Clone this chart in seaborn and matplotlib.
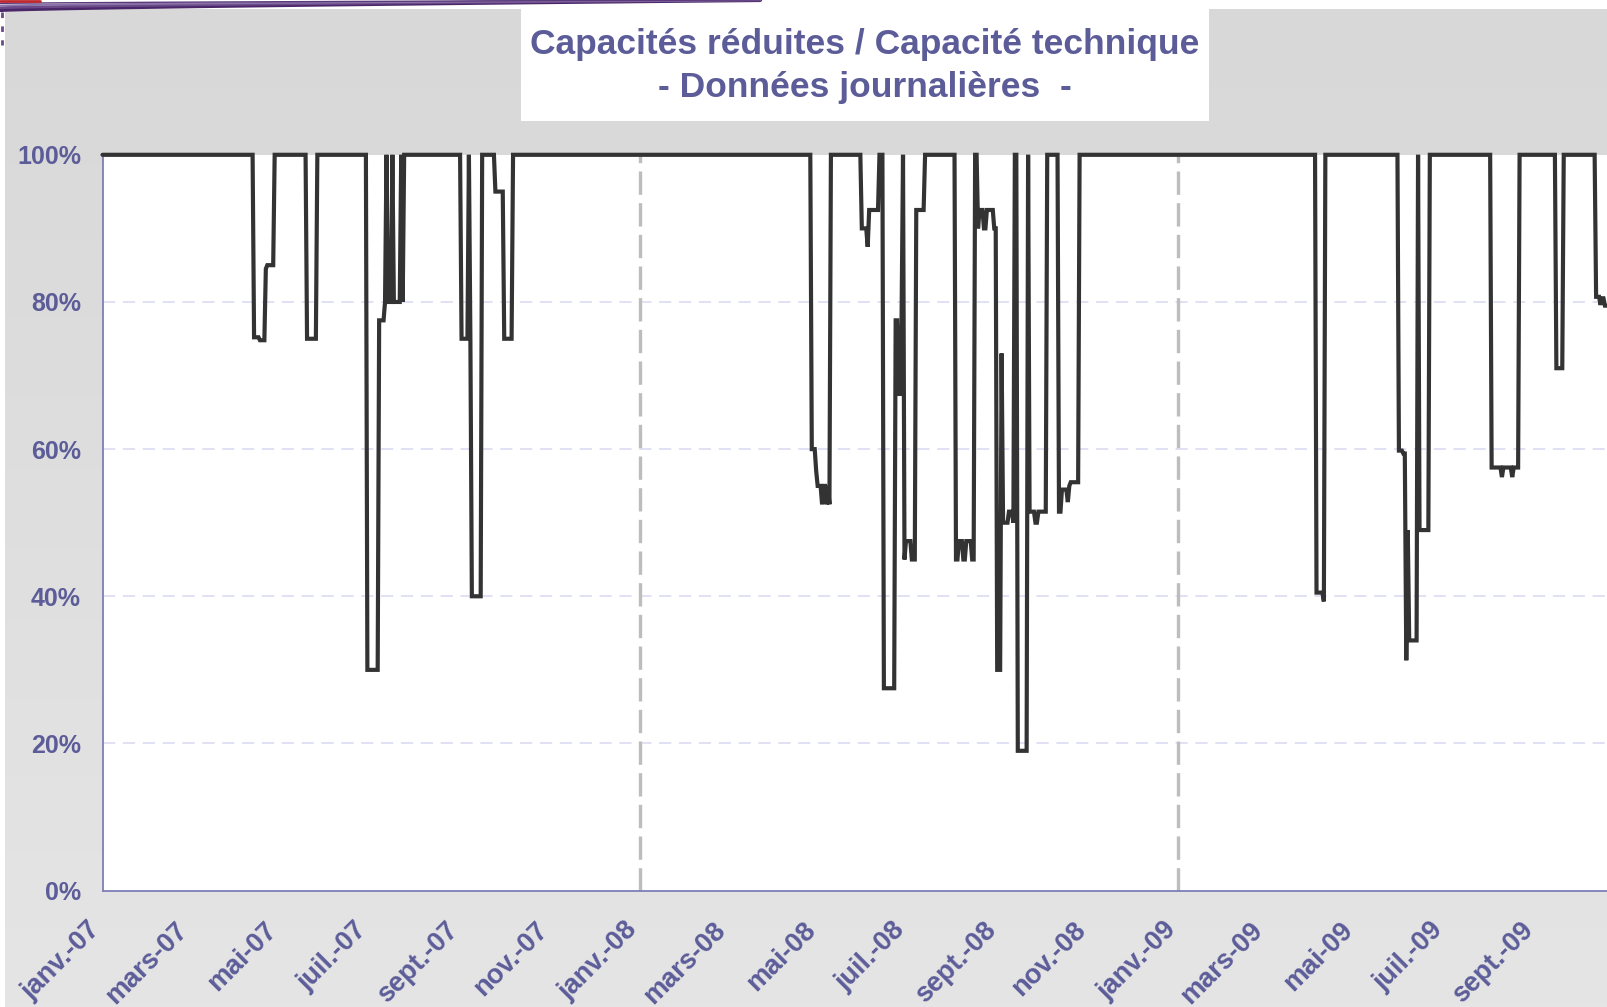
import numpy as np
import pandas as pd
import matplotlib
matplotlib.use("Agg")
import matplotlib.pyplot as plt
import matplotlib.transforms as mtransforms
from matplotlib.colors import LinearSegmentedColormap
from matplotlib.patches import Rectangle
from matplotlib.ticker import PercentFormatter
import seaborn as sns


TITLE = "Capacités réduites / Capacité technique\n- Données journalières  -"

# daily ratio reduced / technical capacity (%), read off the chart as change points:
# from each date on the value holds until the next change
dates_2007 = ["2007-04-14", "2007-04-18", "2007-04-22", "2007-04-23", "2007-04-28",
              "2007-05-20", "2007-05-27",
              "2007-06-30", "2007-07-08", "2007-07-12", "2007-07-13", "2007-07-14",
              "2007-07-17", "2007-07-18", "2007-07-23", "2007-07-24", "2007-07-25",
              "2007-09-02", "2007-09-07", "2007-09-08", "2007-09-09", "2007-09-16",
              "2007-09-25", "2007-10-01", "2007-10-07"]
levels_2007 = [75.2, 74.8, 84.5, 85, 100,
               75, 100,
               30, 77.5, 80, 100, 80,
               100, 80, 100, 80, 100,
               75, 100, 75, 40, 100,
               95, 75, 100]

dates_2008 = ["2008-04-27", "2008-04-30", "2008-05-01", "2008-05-04", "2008-05-05",
              "2008-05-07", "2008-05-08", "2008-05-09", "2008-05-10",
              "2008-05-31", "2008-06-04", "2008-06-05", "2008-06-12", "2008-06-15",
              "2008-06-23", "2008-06-25", "2008-06-27", "2008-06-28", "2008-06-29",
              "2008-06-30", "2008-07-04", "2008-07-07", "2008-07-13",
              "2008-08-03", "2008-08-05", "2008-08-08", "2008-08-10", "2008-08-14",
              "2008-08-16", "2008-08-18", "2008-08-19", "2008-08-22", "2008-08-24",
              "2008-08-29", "2008-08-31", "2008-09-03", "2008-09-04", "2008-09-08",
              "2008-09-11", "2008-09-12", "2008-09-14", "2008-09-21", "2008-09-22",
              "2008-09-26", "2008-09-28", "2008-10-04", "2008-10-12", "2008-10-14",
              "2008-10-18", "2008-10-19", "2008-10-20", "2008-10-26"]
levels_2008 = [60, 57, 55, 52.5, 55,
               52.5, 55, 52.5, 100,
               90, 87.5, 92.5, 100, 27.5,
               77.5, 67.5, 77.5, 100, 45,
               47.5, 45, 92.5, 100,
               45, 47.5, 45, 47.5, 45,
               100, 90, 92.5, 90, 92.5,
               90, 30, 73, 50, 51.5,
               50, 100, 19, 100, 51.5,
               50, 51.5, 100, 51.5, 54.5,
               52.8, 55, 55.5, 100]

dates_2009 = ["2009-04-05", "2009-04-10", "2009-04-11",
              "2009-05-31", "2009-06-03", "2009-06-05", "2009-06-06", "2009-06-07",
              "2009-06-13", "2009-06-14", "2009-06-21",
              "2009-08-02", "2009-08-09", "2009-08-10", "2009-08-16", "2009-08-17",
              "2009-08-21", "2009-09-15", "2009-09-20",
              "2009-10-12", "2009-10-15", "2009-10-16", "2009-10-18"]
levels_2009 = [40.5, 39.3, 100,
               59.8, 59.4, 31.3, 49, 34,
               100, 49, 100,
               57.5, 56.2, 57.5, 56.2, 57.5,
               100, 71, 100,
               80.7, 79.6, 80.5, 79.5]

tick_dates = ["2007-01-01", "2007-03-01", "2007-05-01", "2007-07-01", "2007-09-01", "2007-11-01",
              "2008-01-01", "2008-03-01", "2008-05-01", "2008-07-01", "2008-09-01", "2008-11-01",
              "2009-01-01", "2009-03-01", "2009-05-01", "2009-07-01", "2009-09-01"]
tick_labels = ["janv.-07", "mars-07", "mai-07", "juil.-07", "sept.-07", "nov.-07",
               "janv.-08", "mars-08", "mai-08", "juil.-08", "sept.-08", "nov.-08",
               "janv.-09", "mars-09", "mai-09", "juil.-09", "sept.-09"]
year_marks = ["2008-01-01", "2009-01-01"]

# build the daily series
days = pd.date_range("2007-01-01", "2009-10-21", freq="D")
daily = pd.Series(np.nan, index=days)
daily.iloc[0] = 100
daily.loc[pd.to_datetime(dates_2007 + dates_2008 + dates_2009)] = levels_2007 + levels_2008 + levels_2009
daily = daily.ffill()
df = pd.DataFrame({"date": daily.index, "ratio": daily.values})

TXT = "#5c5c99"
AXC = "#7e7eb8"
W, H = 1607, 1007

sns.set_theme(style="white")
plt.rcParams["font.family"] = ["Liberation Sans", "DejaVu Sans"]

fig = plt.figure(figsize=(W / 100, H / 100), dpi=100, facecolor="white")

# slide-like background
bg = fig.add_axes([0, 0, 1, 1], zorder=-10)
bg.axis("off")
grad = np.linspace(0, 1, 256).reshape(-1, 1)
bg.imshow(grad, cmap=LinearSegmentedColormap.from_list("g", ["#d8d8d8", "#e5e5e5"]),
          aspect="auto", extent=[5, W, H, 9])
xs = np.linspace(0, 760, 200)
for k, (lw, c) in enumerate([(3.0, "#4a2768"), (2.0, "#6b4a8a"), (1.4, "#8a73a8"), (1.0, "#5a3a7a")]):
    top = 10 - k * 2.2
    bg.plot(xs, top - top * (xs / 760) ** 0.7, color=c, lw=lw)
bg.plot([0, 40], [1, 1], color="#c0282d", lw=2)
bg.plot([2, 2], [12, 45], color="#6b4a8a", lw=2, ls=(0, (2, 3)))
bg.add_patch(Rectangle((521, 9), 688, 112, facecolor="white", edgecolor="none"))
bg.text(865, 66, TITLE, ha="center", va="center", color=TXT, fontsize=25.5,
        fontweight="bold", linespacing=1.42)
bg.set_xlim(0, W)
bg.set_ylim(H, 0)

# plot area
x0, y0, y1 = 102.5, 890.6, 154.8
ax = fig.add_axes([x0 / W, (H - y0) / H, (W - x0) / W, (y0 - y1) / H])
ax.set_facecolor("white")

for v in [20, 40, 60, 80]:
    ax.axhline(v, color="#d9d9f3", lw=1.1, dashes=(8, 5), zorder=0)
for d in year_marks:
    ax.axvline(pd.Timestamp(d), color="#bdbdbd", lw=2.4, dashes=(7, 2.5), zorder=1)

sns.lineplot(data=df, x="date", y="ratio", ax=ax, color="#333333", linewidth=3.0,
             clip_on=False, zorder=3, solid_joinstyle="miter")

start = pd.Timestamp("2007-01-01")
ax.set_xlim(start, start + pd.Timedelta(days=1022.4))
ax.set_ylim(0, 100)

ax.set_yticks([0, 20, 40, 60, 80, 100])
ax.yaxis.set_major_formatter(PercentFormatter(100, decimals=0))
ax.set_xticks(pd.to_datetime(tick_dates))
ax.set_xticklabels(tick_labels, rotation=45, ha="right", va="center",
                   rotation_mode="anchor")
ax.set_xlabel("")
ax.set_ylabel("")

for side in ["top", "right"]:
    ax.spines[side].set_visible(False)
for side in ["left", "bottom"]:
    ax.spines[side].set_color(AXC)
    ax.spines[side].set_linewidth(1.3)

ax.tick_params(axis="both", direction="out", length=6.5, width=1.3, color=AXC,
               labelcolor=TXT)
ax.tick_params(axis="x", pad=19, labelsize=19.5)
ax.tick_params(axis="y", pad=9, labelsize=18)
shift = mtransforms.ScaledTranslation(-6 / 100, 0, fig.dpi_scale_trans)
for lbl in ax.get_xticklabels() + ax.get_yticklabels():
    lbl.set_fontweight("bold")
for lbl in ax.get_xticklabels():
    lbl.set_transform(lbl.get_transform() + shift)

fig.savefig("out.png", dpi=100, facecolor="white")
